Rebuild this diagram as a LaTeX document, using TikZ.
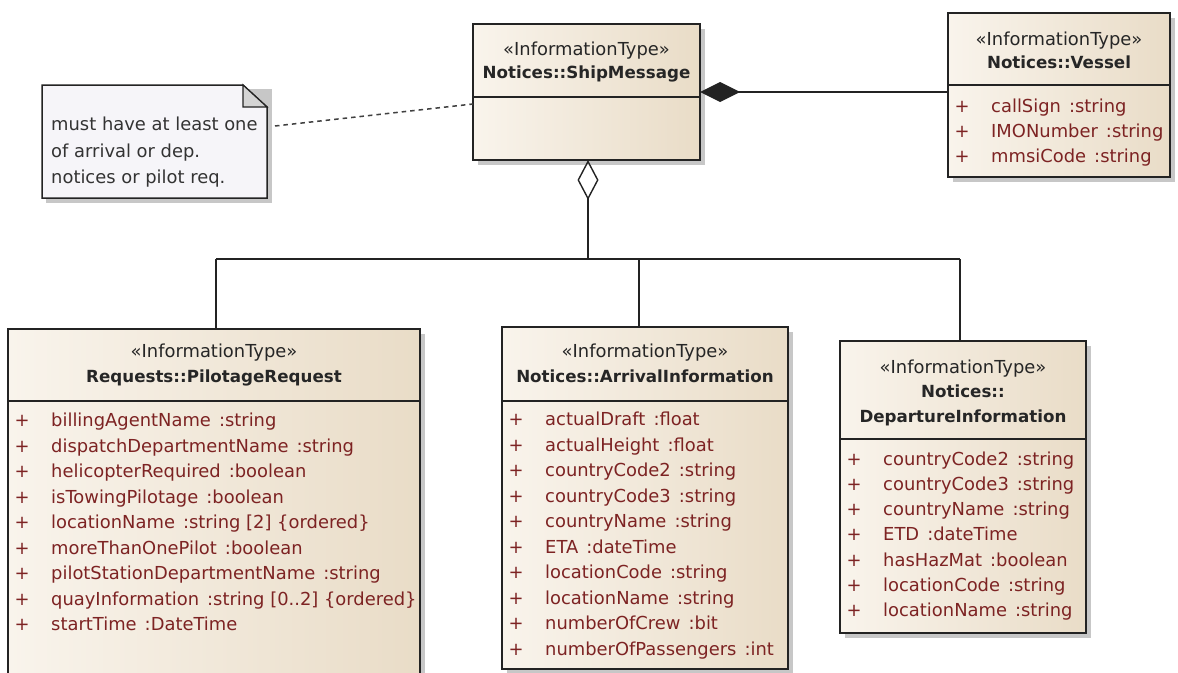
\documentclass[tikz,border=0pt]{standalone}
\usepackage{fontspec}
\setmainfont{DejaVu Sans}
\usetikzlibrary{arrows.meta,calc}
\definecolor{boxL}{RGB}{249,244,236}
\definecolor{boxR}{RGB}{233,220,199}
\definecolor{attrc}{RGB}{125,35,35}
\definecolor{linec}{RGB}{35,35,35}
\definecolor{notefill}{RGB}{246,245,249}
\definecolor{foldc}{RGB}{212,212,212}
\newcommand\attrfont{\fontsize{17.9}{20}\selectfont}
\newcommand\namefont{\fontsize{16.7}{20}\selectfont\bfseries}
\newcommand\tsep{\hspace{0.45em}}
\newcommand\umlclass[6]{%
  \fill[shadowbox] (#2+5,#3+5) rectangle (#2+#4+5,#3+#5+5);
  \node[umlbox, minimum width=#4pt, minimum height=#5pt] (#1) at (#2,#3) {};
  \draw[boxline] (#2,#6) -- (#2+#4,#6);
}
\newcommand\attrlist[5]{%
  \foreach \atxt [count=\i from 0] in {#5} {
    \node[plusmark] (#1-p\i) at (#2+14,#3+\i*#4) {+};
    \node[attr] (#1-a\i) at (#2+43,#3+\i*#4) {\atxt};
  }
}
\begin{document}
\begin{tikzpicture}[x=1pt,y=-1pt,
  boxline/.style={draw=linec,line width=1.5pt},
  umlbox/.style={boxline, rectangle, inner sep=0pt, outer sep=0pt, anchor=north west, left color=boxL, right color=boxR},
  shadowbox/.style={fill=black!22},
  conn/.style={draw=linec, line width=1.4pt},
  notelink/.style={draw=black!75, line width=1.5pt, dash pattern=on 4.5pt off 4pt},
  stereo/.style={anchor=base, inner sep=0pt, font=\attrfont, text=black!85},
  cname/.style={anchor=base, inner sep=0pt, font=\namefont, text=black!85},
  attr/.style={anchor=base west, inner sep=0pt, font=\attrfont, text=attrc},
  plusmark/.style={anchor=base, inner sep=0pt, font=\attrfont, text=attrc},
  notetext/.style={anchor=base west, inner sep=0pt, font=\attrfont, text=black!80},
]
\useasboundingbox (0,0) rectangle (1178,672);
\clip (0,0) rectangle (1178,672);
\fill[white] (0,0) rectangle (1178,672);

% ---- note ----
\fill[shadowbox] (46,89) rectangle (272,203);
\node[inner sep=0pt, outer sep=0pt, anchor=north west, minimum width=225pt, minimum height=113pt] (note) at (42,85) {};
\filldraw[fill=notefill, draw=linec, line width=1.5pt]
  (note.north west) -- ([xshift=-24pt]note.north east) -- ([yshift=-22pt]note.north east)
  -- (note.south east) -- (note.south west) -- cycle;
\filldraw[fill=foldc, draw=linec, line width=1.2pt]
  ([xshift=-24pt]note.north east) -- ([xshift=-24pt,yshift=-22pt]note.north east) -- ([yshift=-22pt]note.north east) -- cycle;
\node[notetext] (nt1) at (51,130) {must have at least one};
\node[notetext] (nt2) at (51,157) {of arrival or dep.};
\node[notetext] (nt3) at (51,183) {notices or pilot req.};

% ---- classes ----
\umlclass{ship}{473}{24}{227}{136}{97}
\umlclass{vessel}{948}{13}{222}{164}{85}
\umlclass{pilot}{8}{329}{412}{360}{401}
\umlclass{arr}{502}{327}{286}{342}{401}
\umlclass{dep}{840}{341}{246}{292}{439}

% headers
\node[stereo] (ship-st) at (586.5,55.5) {«InformationType»};
\node[cname] (ship-nm) at (586.5,78.5) {Notices::ShipMessage};
\node[stereo] (vessel-st) at (1059,45.5) {«InformationType»};
\node[cname] (vessel-nm) at (1059,68.5) {Notices::Vessel};
\node[stereo] (pilot-st) at (214,357.5) {«InformationType»};
\node[cname] (pilot-nm) at (214,382.5) {Requests::PilotageRequest};
\node[stereo] (arr-st) at (645,357.5) {«InformationType»};
\node[cname] (arr-nm) at (645,382.5) {Notices::ArrivalInformation};
\node[stereo] (dep-st) at (963,373) {«InformationType»};
\node[cname] (dep-nm1) at (963,397.5) {Notices::};
\node[cname] (dep-nm2) at (963,422) {DepartureInformation};

% attributes
\attrlist{vessel}{948}{112}{25}{{callSign\tsep:string},{IMONumber\tsep:string},{mmsiCode\tsep:string}}
\attrlist{pilot}{8}{426.5}{25.5}{{billingAgentName\tsep:string},{dispatchDepartmentName\tsep:string},{helicopterRequired\tsep:boolean},{isTowingPilotage\tsep:boolean},{locationName\tsep:string [2] \{ordered\}},{moreThanOnePilot\tsep:boolean},{pilotStationDepartmentName\tsep:string},{quayInformation\tsep:string [0..2] \{ordered\}},{startTime\tsep:DateTime}}
\attrlist{arr}{502}{425.5}{25.55}{{actualDraft\tsep:float},{actualHeight\tsep:float},{countryCode2\tsep:string},{countryCode3\tsep:string},{countryName\tsep:string},{ETA\tsep:dateTime},{locationCode\tsep:string},{locationName\tsep:string},{numberOfCrew\tsep:bit},{numberOfPassengers\tsep:int}}
\attrlist{dep}{840}{465}{25.33}{{countryCode2\tsep:string},{countryCode3\tsep:string},{countryName\tsep:string},{ETD\tsep:dateTime},{hasHazMat\tsep:boolean},{locationCode\tsep:string},{locationName\tsep:string}}

% ---- connectors ----
\draw[notelink] ([xshift=8pt,yshift=15.5pt]note.east) -- ([yshift=-12pt]ship.west);
\draw[conn, {Diamond[length=40pt,width=20pt]}-] (ship.east) -- (ship.east -| vessel.west);
\coordinate (jl) at (216,259);
\coordinate (ja) at (639,259);
\coordinate (jr) at (960,259);
\draw[conn, {Diamond[open,length=40pt,width=21pt]}-] ([xshift=1.5pt]ship.south) -- ([xshift=1.5pt]ship.south |- jl);
\draw[conn] (jl) -- (jr);
\draw[conn] (jl) -- (jl |- pilot.north);
\draw[conn] (ja) -- (ja |- arr.north);
\draw[conn] (jr) -- (jr |- dep.north);
\end{tikzpicture}
\end{document}
